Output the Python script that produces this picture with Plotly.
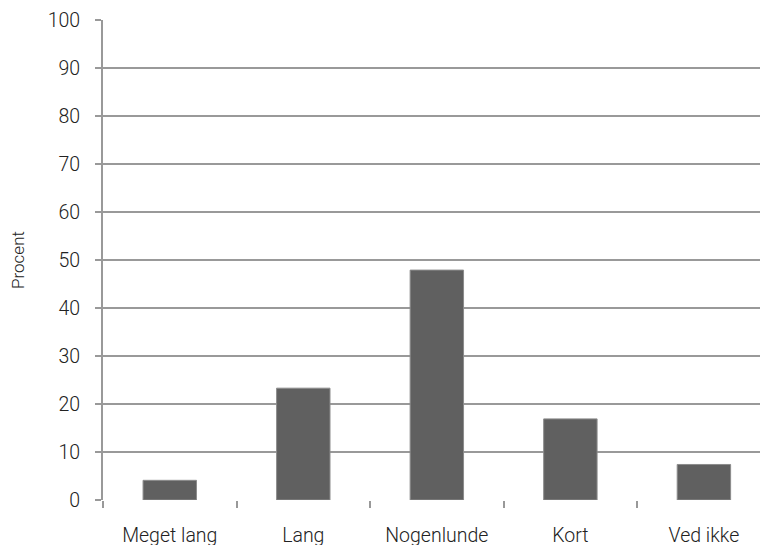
import plotly.graph_objects as go

categories = ["Meget lang", "Lang", "Nogenlunde", "Kort", "Ved ikke"]
values = [4.1, 23.3, 47.9, 16.9, 7.4]
y_ticks = [0, 10, 20, 30, 40, 50, 60, 70, 80, 90, 100]

fig = go.Figure()
fig.add_trace(go.Bar(
    x=categories, y=values,
    marker=dict(color="#606060", line=dict(color="#8c8c8c", width=1)),
    width=0.4,
))

font = dict(family="Roboto, Lato, sans-serif", size=19.5, color="#222222", weight=300)

fig.update_layout(
    width=760, height=537,
    margin=dict(l=95, r=0, t=12, b=45),
    paper_bgcolor="white", plot_bgcolor="white",
    showlegend=False,
    font=font,
    xaxis=dict(
        type="category",
        range=[-0.5, 4.48],
        showgrid=False,
        showline=False,
        ticks="outside", ticklen=7, tickcolor="#999999", tickwidth=2,
        tickson="boundaries",
        ticklabelstandoff=21,
        zeroline=False,
        automargin=False,
    ),
    yaxis=dict(
        range=[0, 100],
        tickvals=y_ticks,
        showgrid=True, gridcolor="#999999", gridwidth=2,
        showline=True, linecolor="#999999", linewidth=2,
        ticks="outside", ticklen=6, tickcolor="#999999", tickwidth=2,
        ticklabelstandoff=11,
        zeroline=False,
        automargin=False,
        title=dict(text="Procent", standoff=40, font=dict(size=17)),
    ),
)

fig.write_html("out.html")
